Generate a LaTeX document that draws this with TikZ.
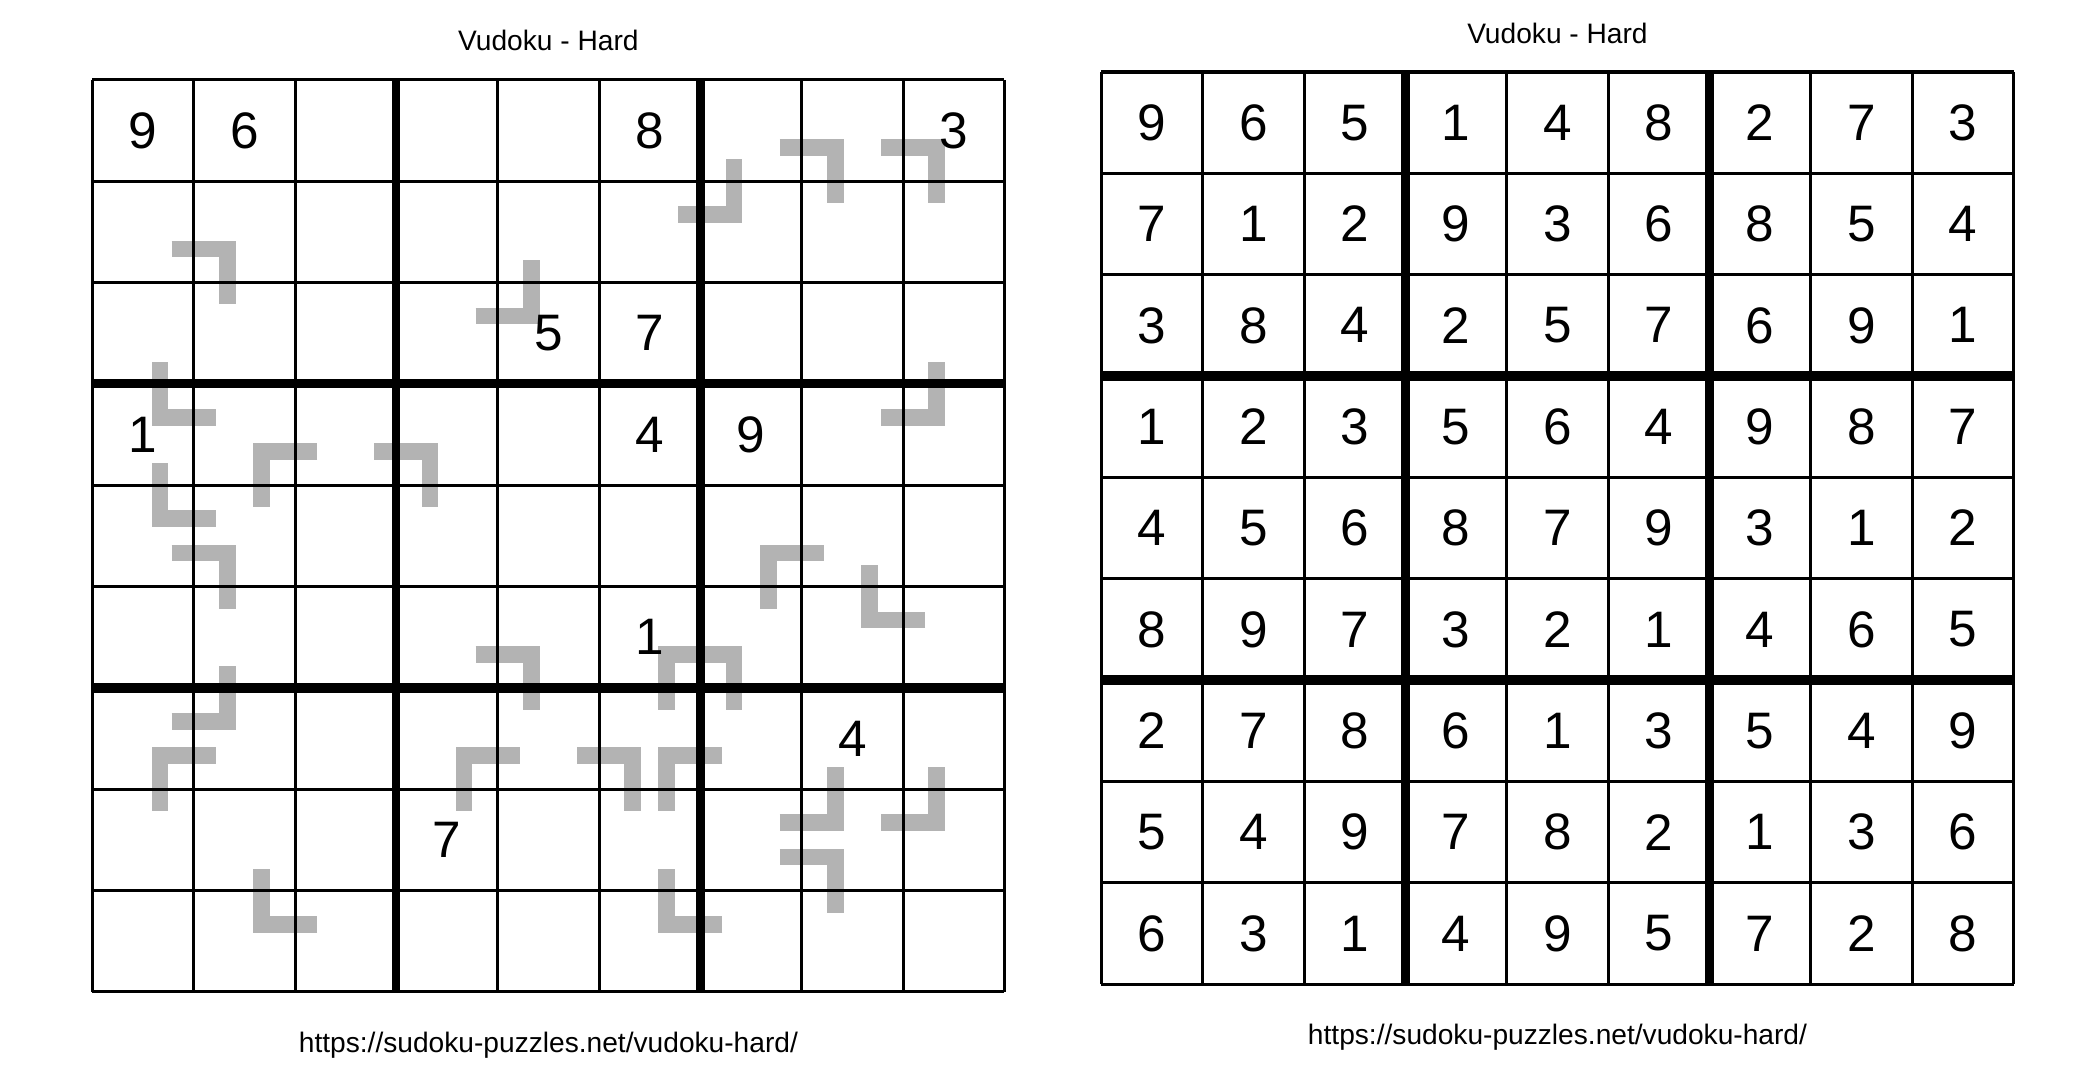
\documentclass[tikz,border=0pt]{standalone}
\usepackage{fontspec}
\setmainfont{Liberation Sans}
\definecolor{vgray}{RGB}{179,179,179}

\begin{document}
\begin{tikzpicture}[
  thinline/.style={line width=0.85pt},
  thickv/.style={line width=2.3pt},
  thickh/.style={line width=2.6pt},
  vmark/.style={vgray,line width=0.165cm,line join=miter},
  digit/.style={font=\fontsize{14.4}{17}\selectfont,inner sep=0pt},
  caption/.style={font=\fontsize{7.9}{9.5}\selectfont,inner sep=0pt,anchor=base}
]
\path[fill=white,use as bounding box] (-0.911,0.787) rectangle (19.602,-9.889);

% puzzle
\node[caption] (title1) at (4.5,0.284) {Vudoku - Hard};
\foreach \c/\r/\dx/\dy in {6/1/1/1, 7/1/1/-1, 8/1/1/-1, 1/2/1/-1, 4/2/1/1,
    1/3/-1/1, 8/3/1/1, 2/4/-1/-1, 3/4/1/-1, 1/4/-1/1, 1/5/1/-1, 7/5/-1/-1,
    8/5/-1/1, 4/6/1/-1, 6/6/-1/-1, 6/6/1/-1, 1/6/1/1, 1/7/-1/-1, 4/7/-1/-1,
    5/7/1/-1, 6/7/-1/-1, 7/7/1/1, 8/7/1/1, 7/8/1/-1, 2/8/-1/1, 6/8/-1/1}
  \draw[vmark] ({\c-0.217*\dx},{-\r-0.3315*\dy}) -- ({\c+0.3315*\dx},{-\r-0.3315*\dy})
    -- ({\c+0.3315*\dx},{-\r+0.217*\dy});
\draw[thinline] (0,-9) grid (9,0);
\foreach \i in {3,6} {
  \draw[thickv] (\i,0) -- (\i,-9);
  \draw[thickh] (0,-\i) -- (9,-\i);
}
\foreach \r/\c/\d in {0/0/9, 0/1/6, 0/5/8, 0/8/3, 2/4/5, 2/5/7, 3/0/1, 3/5/4,
    3/6/9, 5/5/1, 6/7/4, 7/3/7}
  \node[digit] (g\r\c) at (\c+0.5,-\r-0.5) {\d};
\node[caption] (url1) at (4.5,-9.6) {https://sudoku-puzzles.net/vudoku-hard/};

% solution
\begin{scope}[shift={(9.956,0.077)}]
\node[caption] (title2) at (4.5,0.284) {Vudoku - Hard};
\draw[thinline] (0,-9) grid (9,0);
\foreach \i in {3,6} {
  \draw[thickv] (\i,0) -- (\i,-9);
  \draw[thickh] (0,-\i) -- (9,-\i);
}
\foreach \rowlist [count=\r from 0] in {{9,6,5,1,4,8,2,7,3},{7,1,2,9,3,6,8,5,4},
    {3,8,4,2,5,7,6,9,1},{1,2,3,5,6,4,9,8,7},{4,5,6,8,7,9,3,1,2},
    {8,9,7,3,2,1,4,6,5},{2,7,8,6,1,3,5,4,9},{5,4,9,7,8,2,1,3,6},
    {6,3,1,4,9,5,7,2,8}}
  \foreach \d [count=\c from 0] in \rowlist
    \node[digit] (s\r\c) at (\c+0.5,-\r-0.5) {\d};
\node[caption] (url2) at (4.5,-9.6) {https://sudoku-puzzles.net/vudoku-hard/};
\end{scope}
\end{tikzpicture}
\end{document}
